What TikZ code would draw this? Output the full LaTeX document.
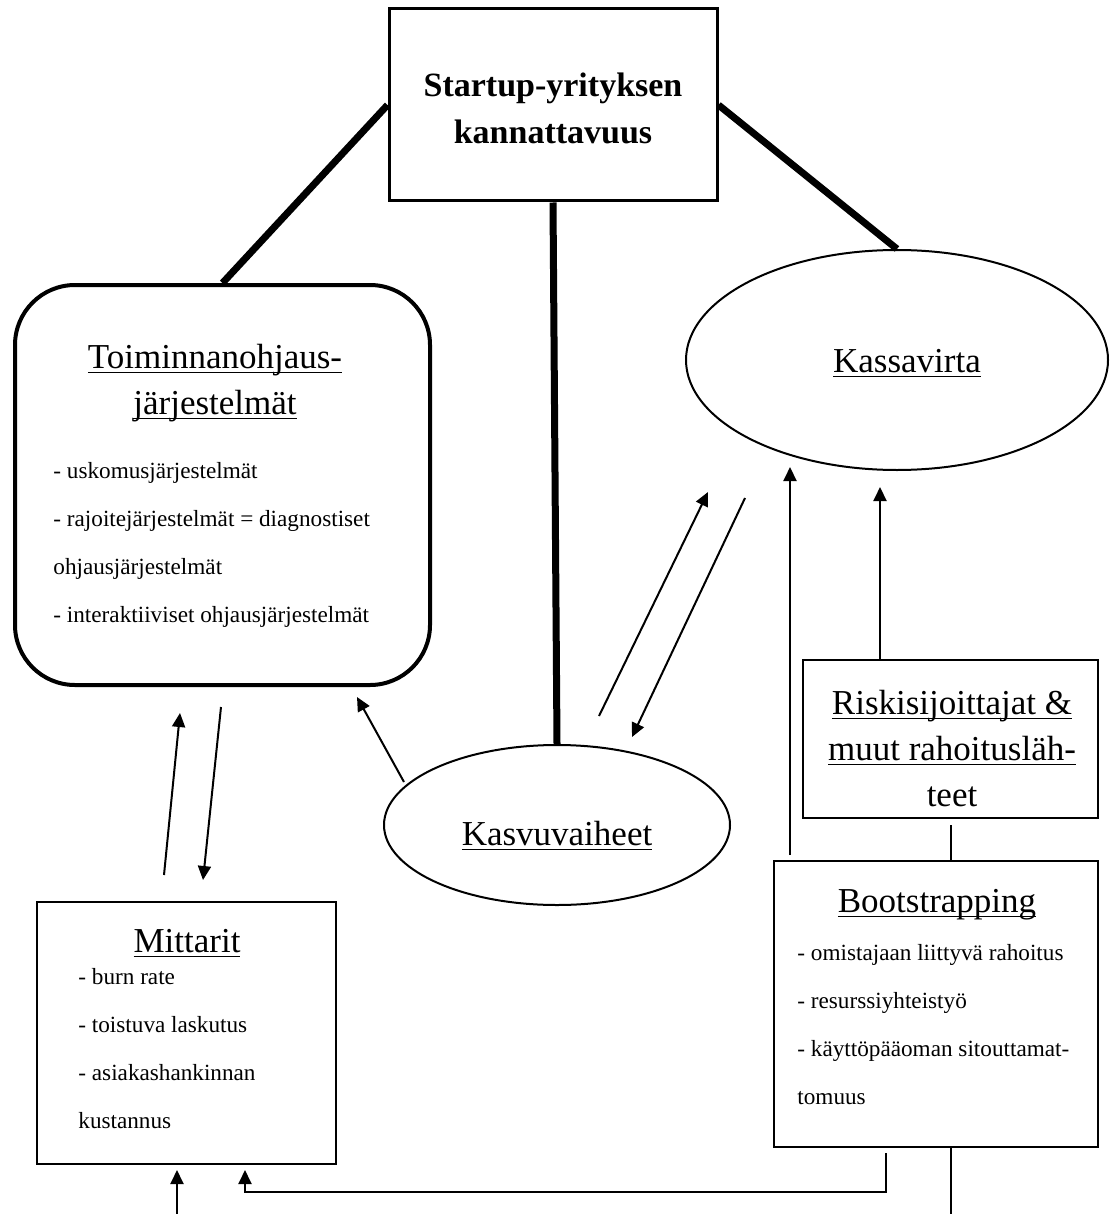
\documentclass[tikz,border=0pt]{standalone}
\usepackage{fontspec}
\setmainfont{Liberation Serif}
\usetikzlibrary{shapes.geometric,arrows.meta}
\newcommand\ulx[1]{\underline{\raisebox{0pt}[\height][1pt]{#1}}}
\begin{document}
\begin{tikzpicture}[x=0.5pt,y=-0.5pt,
  heavy/.style={line width=3.5pt},
  arr/.style={line width=1pt,-{Triangle[length=7pt,width=6.5pt]}},
  thinline/.style={line width=0.7pt},
  shapebox/.style={draw,inner sep=0pt},
  ttl/.style={font=\fontsize{17.5}{20}\selectfont,inner sep=0pt,anchor=base},
  bdy/.style={font=\fontsize{11.6}{13}\selectfont,inner sep=0pt,anchor=base west},
]
\useasboundingbox (0,0) rectangle (1110,1214);

% shapes
\node[shapebox,line width=1.5pt,minimum width=164pt,minimum height=96pt] (top) at (553,105) {};
\node[shapebox,line width=2pt,rounded corners=30pt,minimum width=207.5pt,minimum height=200pt] (toim) at (222.5,485) {};
\node[shapebox,ellipse,line width=1pt,minimum width=211pt,minimum height=110pt] (kassa) at (897,360) {};
\node[shapebox,ellipse,line width=1pt,minimum width=173pt,minimum height=80pt] (kasvu) at (557,825) {};
\node[shapebox,thinline,minimum width=147.5pt,minimum height=79pt] (riski) at (950.5,739) {};
\node[shapebox,thinline,minimum width=162pt,minimum height=143pt] (boot) at (936,1004) {};
\node[shapebox,thinline,minimum width=149.5pt,minimum height=131pt] (mitt) at (186.5,1033) {};

% texts
\node[ttl,font=\bfseries\fontsize{17}{20}\selectfont] (t1) at (553,97) {Startup-yrityksen};
\node[ttl,font=\bfseries\fontsize{17}{20}\selectfont] (t2) at (553,144) {kannattavuus};

\node[ttl] (to1) at (215,368) {\ulx{Toiminnanohjaus-}};
\node[ttl] (to2) at (215,414) {\ulx{järjestelmät}};
\node[bdy] (to3) at (53,478) {- uskomusjärjestelmät};
\node[bdy] (to4) at (53,526) {- rajoitejärjestelmät = diagnostiset};
\node[bdy] (to5) at (53,574) {ohjausjärjestelmät};
\node[bdy] (to6) at (53,622) {- interaktiiviset ohjausjärjestelmät};

\node[ttl] (ka) at (907,372) {\ulx{Kassavirta}};
\node[ttl] (kv) at (557,845) {\ulx{Kasvuvaiheet}};

\node[ttl] (r1) at (952,714) {\ulx{Riskisijoittajat \&}};
\node[ttl] (r2) at (952,760) {\ulx{muut rahoitusläh-}};
\node[ttl] (r3) at (952,806) {teet};

\node[ttl] (b0) at (937,912) {\ulx{Bootstrapping}};
\node[bdy] (b1) at (797,960) {- omistajaan liittyvä rahoitus};
\node[bdy] (b2) at (797,1008) {- resurssiyhteistyö};
\node[bdy] (b3) at (797,1056) {- käyttöpääoman sitouttamat-};
\node[bdy] (b4) at (797,1104) {tomuus};

\node[ttl] (m0) at (187,952) {\ulx{Mittarit}};
\node[bdy] (m1) at (78,984) {- burn rate};
\node[bdy] (m2) at (78,1032) {- toistuva laskutus};
\node[bdy] (m3) at (78,1080) {- asiakashankinnan};
\node[bdy] (m4) at (78,1128) {kustannus};

% heavy connectors
\draw[heavy] (top.west) -- (toim.north);
\draw[heavy] (top.south) -- (kasvu.north);
\draw[heavy] (top.east) -- (kassa.north);

% free ends of the thin connectors
\coordinate (a1s) at (164,875);  \coordinate (a1e) at (180,713);
\coordinate (a2s) at (221,707);  \coordinate (a2e) at (203,880);
\coordinate (a3s) at (404,782);  \coordinate (a3e) at (357,697);
\coordinate (a4s) at (599,716);  \coordinate (a4e) at (708,492);
\coordinate (a5s) at (745,498);  \coordinate (a5e) at (632,737);
\coordinate (a6s) at (790,855);  \coordinate (a6e) at (790,467);
\coordinate (a7s) at (880,660);  \coordinate (a7e) at (880,487);
\coordinate (a8s) at (177,1214); \coordinate (a8e) at (177,1170);
\coordinate (a9s) at (886,1153); \coordinate (a9m) at (886,1192);
\coordinate (a9n) at (245,1192); \coordinate (a9e) at (245,1170);
\coordinate (l1s) at (951,825);  \coordinate (l1e) at (951,861);
\coordinate (l2s) at (951,1147); \coordinate (l2e) at (951,1214);

\draw[arr] (a1s) -- (a1e);
\draw[arr] (a2s) -- (a2e);
\draw[arr] (a3s) -- (a3e);
\draw[arr] (a4s) -- (a4e);
\draw[arr] (a5s) -- (a5e);
\draw[arr] (a6s) -- (a6e);
\draw[arr] (a7s) -- (a7e);
\draw[arr] (a8s) -- (a8e);
\draw[arr] (a9s) -- (a9m) -- (a9n) -- (a9e);
\draw[thinline] (l1s) -- (l1e);
\draw[thinline] (l2s) -- (l2e);
\end{tikzpicture}
\end{document}
